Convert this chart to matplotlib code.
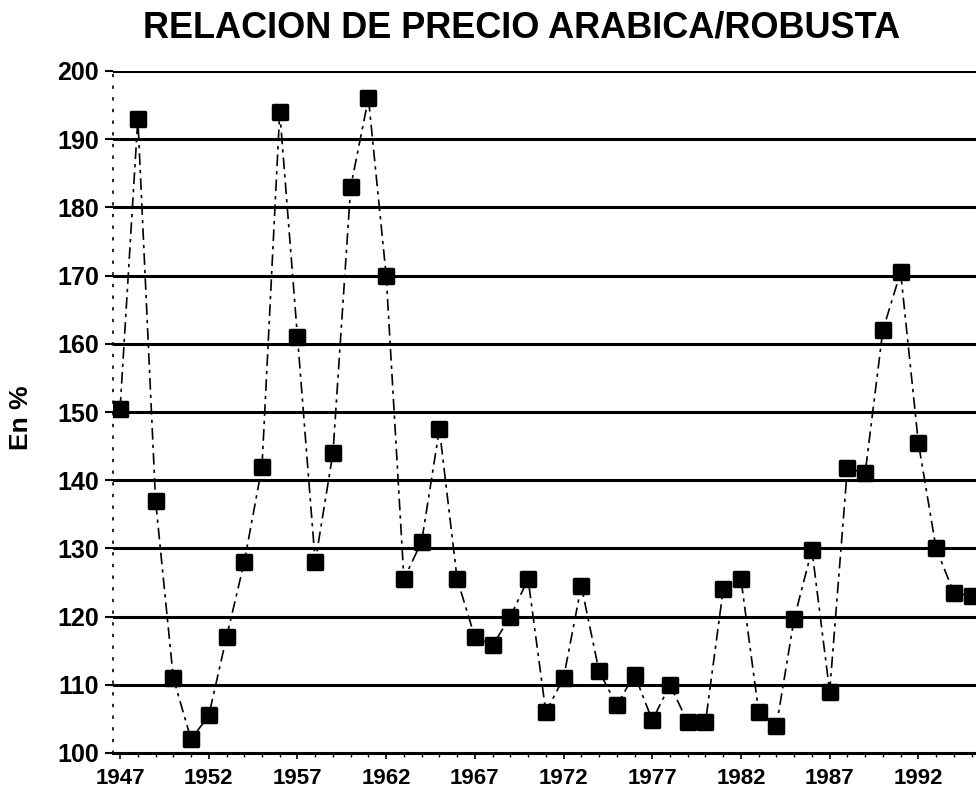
import matplotlib
matplotlib.use("Agg")
import matplotlib.pyplot as plt
from matplotlib.markers import MarkerStyle

# ratio arabica / robusta, in %
years = list(range(1947, 1996))
ratio = [150.5, 193, 137, 111, 102, 105.5, 117, 128, 142, 194,
         161, 128, 144, 183, 196, 170, 125.5, 131, 147.5, 125.5,
         117, 115.8, 120, 125.5, 106, 111, 124.5, 112, 107, 111.5,
         104.8, 110, 104.5, 104.5, 124, 125.5, 106, 104, 119.7, 129.8,
         109, 141.8, 141, 162, 170.5, 145.5, 130, 123.5, 123]

xticks = [1947, 1952, 1957, 1962, 1967, 1972, 1977, 1982, 1987, 1992]
yticks = [100, 110, 120, 130, 140, 150, 160, 170, 180, 190, 200]

font = "Liberation Sans"

fig = plt.figure(figsize=(9.76, 7.92), dpi=100)
ax = fig.add_axes([113 / 976, 1 - 753 / 792, 1 - 113 / 976, (753 - 71) / 792])

for y in yticks:
    ax.axhline(y, color="black", lw=2.2, zorder=1)

mk = MarkerStyle("s", joinstyle="round")
ax.plot(years, ratio, color="black", lw=1.2, ls=(0, (7, 3, 2, 3)),
        marker=mk, ms=9.5, mew=2.5, mfc="black", mec="black", zorder=3)

ax.set_xlim(1946.6, 1995.25)
ax.set_ylim(100, 200)
ax.set_xticks(xticks)
ax.set_xticks(years, minor=True)
ax.set_yticks(yticks)
ax.set_xticklabels([str(x) for x in xticks], fontsize=16, fontweight="bold",
                   family=font)
ax.set_yticklabels([str(y) for y in yticks], fontsize=18, fontweight="bold",
                   family=font)
ax.tick_params(axis="x", which="major", length=4, width=1.2, pad=6.5)
ax.tick_params(axis="x", which="minor", length=3, width=1)
ax.tick_params(axis="y", length=6, width=1.5, pad=4)

for s in ["top", "right"]:
    ax.spines[s].set_visible(False)
ax.spines["left"].set_linestyle((0, (1, 6)))
ax.spines["left"].set_linewidth(1.2)
ax.spines["bottom"].set_linewidth(2.2)

fig.text(522 / 976, 1 - 28 / 792, "RELACION DE PRECIO ARABICA/ROBUSTA",
         ha="center", va="center", fontsize=26, fontweight="bold", family=font)
fig.text(21 / 976, 1 - 418 / 792, "En %", rotation=90, ha="center",
         va="center", fontsize=19, fontweight="bold", family=font)

fig.savefig("out.png", dpi=100)
